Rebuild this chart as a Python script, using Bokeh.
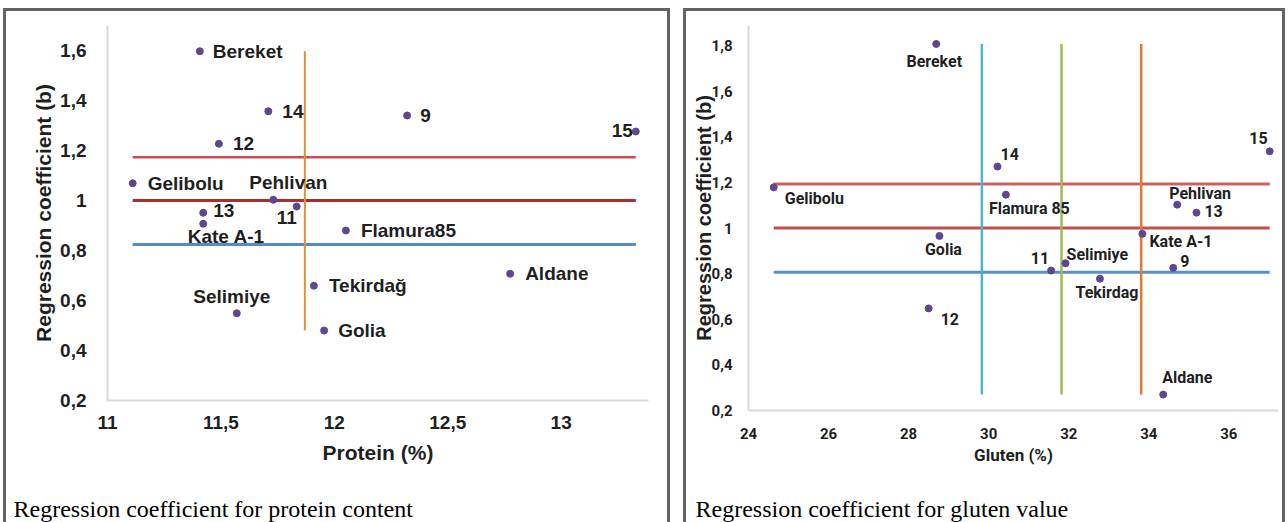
from bokeh.plotting import figure
from bokeh.models import ColumnDataSource, FixedTicker, CustomJSTickFormatter, Title
from bokeh.embed import file_html
from bokeh.resources import INLINE

# ---------------- data: protein panel ----------------
protein_names = ["Bereket", "14", "9", "15", "12", "Gelibolu", "Pehlivan", "11",
                 "13", "Kate A-1", "Flamura85", "Aldane", "Tekirdağ", "Selimiye", "Golia"]
protein_x = [11.407, 11.709, 12.321, 13.329, 11.491, 11.111, 11.731, 11.834,
             11.422, 11.422, 12.051, 12.775, 11.910, 11.570, 11.955]
protein_b = [1.597, 1.357, 1.340, 1.276, 1.227, 1.069, 1.003, 0.976,
             0.951, 0.907, 0.880, 0.707, 0.659, 0.549, 0.480]
protein_hlines = [1.173, 1.0, 0.824]
protein_mean = [11.87]
protein_xticks = [11, 11.5, 12, 12.5, 13]
protein_yticks = [0.2, 0.4, 0.6, 0.8, 1.0, 1.2, 1.4, 1.6]

# ---------------- data: gluten panel ----------------
gluten_names = ["Bereket", "14", "15", "Gelibolu", "Flamura 85", "Pehlivan", "13",
                "Kate A-1", "Golia", "11", "Selimiye", "9", "Tekirdag", "12", "Aldane"]
gluten_x = [28.69, 30.22, 37.02, 24.63, 30.43, 34.71, 35.19,
            33.84, 28.77, 31.56, 31.92, 34.61, 32.78, 28.50, 34.36]
gluten_b = [1.808, 1.270, 1.337, 1.179, 1.147, 1.103, 1.068,
            0.975, 0.966, 0.814, 0.846, 0.826, 0.778, 0.648, 0.270]
gluten_hlines = [1.194, 1.001, 0.806]
gluten_vlines = [29.83, 31.82, 33.81]
gluten_xticks = [24, 26, 28, 30, 32, 34, 36]
gluten_yticks = [0.2, 0.4, 0.6, 0.8, 1.0, 1.2, 1.4, 1.6, 1.8]

captions = ["Regression coefficient for protein content",
            "Regression coefficient for gluten value"]

# ---------------- label placement (styles) ----------------
protein_lab_align = ["left", "left", "left", "right", "left", "left", "center", "center",
                     "left", "center", "left", "left", "left", "center", "left"]
protein_lab_dx = [13, 14, 13, -3, 14, 15, 15, -10, 10, 23, 15, 15, 15, -5, 14]
protein_lab_dy = [0, 0, 0, -1, 0, 0, -17, 11, -2, 13, 0, 0, 0, -17, 0]

gluten_lab_align = ["center", "left", "right", "left", "left", "left", "left",
                    "left", "center", "right", "left", "left", "center", "left", "left"]
gluten_lab_dx = [-2, 3, -2, 11, -17, -8, 8, 7, 4, -2, 1, 7, 7, 12, -1]
gluten_lab_dy = [18, -13, -13, 11, 14, -11, -2, 8, 14, -13, -9, -7, 14, 11, -17]

DOT = "#5f4790"
TXT = "#1f1f1f"
AX = "#d9d9d9"
FONT = "Liberation Sans"
NARROW = "Roboto"
SHADOW = "inset 3px 0 0 0 #636363, inset -3px 0 0 0 #636363, inset 0 3px 0 0 #636363"

fmt = CustomJSTickFormatter(code="""
var s = (Math.round(tick*10)/10).toString();
return s.replace('.', ',');
""")


def style_axes(p, xticks, yticks, font, tsize, title_font, xtitle_size, ytitle_size):
    p.xaxis.ticker = FixedTicker(ticks=xticks)
    p.yaxis.ticker = FixedTicker(ticks=yticks)
    for ax in (p.xaxis[0], p.yaxis[0]):
        ax.formatter = fmt
        ax.axis_line_color = AX
        ax.axis_line_width = 2
        ax.major_tick_line_color = None
        ax.minor_tick_line_color = None
        ax.major_label_text_font = font
        ax.major_label_text_font_style = "bold"
        ax.major_label_text_font_size = tsize
        ax.major_label_text_color = TXT
        ax.axis_label_text_font_style = "bold"
        ax.axis_label_text_color = TXT
    p.xaxis.axis_label_text_font = title_font
    p.xaxis.axis_label_text_font_size = xtitle_size
    p.yaxis.axis_label_text_font = FONT
    p.yaxis.axis_label_text_font_size = ytitle_size
    p.xgrid.grid_line_color = None
    p.ygrid.grid_line_color = None
    p.outline_line_color = None
    p.border_fill_alpha = 0
    p.background_fill_alpha = 0


def add_caption(p, text, offset, gap_size):
    # empty spacer row pushes the caption towards the bottom of the panel
    p.add_layout(Title(text="\u00a0", standoff=0, text_font_size=gap_size,
                       text_font="Liberation Serif"), "below")
    p.add_layout(Title(text=text, align="left", offset=offset, standoff=0,
                       text_font="Liberation Serif", text_font_size="24px",
                       text_font_style="normal", text_color="#000000"), "below")


# ================= left panel =================
W1, H1 = 667, 514
p1 = figure(width=W1, height=H1, x_range=(11, 13.385), y_range=(0.2, 1.70),
            output_backend="svg", toolbar_location=None,
            min_border_left=104, min_border_right=22, min_border_top=17, min_border_bottom=122,
            x_axis_label="Protein (%)", y_axis_label="Regression coefficient (b)",
            styles={"position": "absolute", "left": "3px", "top": "8px", "box-shadow": SHADOW})
style_axes(p1, protein_xticks, protein_yticks, FONT, "19px", FONT, "21px", "21px")
p1.xaxis.major_label_standoff = 9
p1.yaxis.major_label_standoff = 15
p1.xaxis.axis_label_standoff = 9
p1.yaxis.axis_label_standoff = 2

xmin1, xmax1 = min(protein_x), max(protein_x)
ymin1, ymax1 = min(protein_b), max(protein_b)
hcols1 = ["#c9504d", "#a5302c", "#5689c8"]
hw1 = [2.5, 3, 3]
for yv, c, lw in zip(protein_hlines, hcols1, hw1):
    p1.line([xmin1, xmax1], [yv, yv], line_color=c, line_width=lw)
p1.line([protein_mean[0], protein_mean[0]], [ymin1, ymax1], line_color="#e5912f", line_width=2)

src1 = ColumnDataSource(dict(x=protein_x, y=protein_b, t=protein_names,
                             al=protein_lab_align, dx=protein_lab_dx, dy=protein_lab_dy))
p1.scatter("x", "y", source=src1, size=7, fill_color=DOT, line_color=DOT)
p1.text("x", "y", text="t", source=src1, text_align="al", text_baseline="middle",
        x_offset="dx", y_offset="dy", text_font={"value": FONT}, text_font_style="bold",
        text_font_size="19px", text_color=TXT)
add_caption(p1, captions[0], -94, "22px")

# ================= right panel =================
W2, H2 = 602, 514
p2 = figure(width=W2, height=H2, x_range=(24, 37.24), y_range=(0.2, 1.889),
            output_backend="svg", toolbar_location=None,
            min_border_left=65, min_border_right=7, min_border_top=17, min_border_bottom=112,
            x_axis_label="Gluten (%)", y_axis_label="Regression coefficient (b)",
            styles={"position": "absolute", "left": "683px", "top": "8px", "box-shadow": SHADOW})
style_axes(p2, gluten_xticks, gluten_yticks, NARROW, "15px", NARROW, "17px", "20px")
p2.xaxis.major_label_standoff = 11
p2.yaxis.major_label_standoff = 10
p2.xaxis.axis_label_standoff = 3
p2.yaxis.axis_label_standoff = -6

xmin2, xmax2 = min(gluten_x), max(gluten_x)
ymin2, ymax2 = min(gluten_b), max(gluten_b)
hcols2 = ["#d0605c", "#c24f4c", "#5a8fd0"]
for yv, c in zip(gluten_hlines, hcols2):
    p2.line([xmin2, xmax2], [yv, yv], line_color=c, line_width=3)
vcols2 = ["#4fb3c9", "#9bbb59", "#e27a2e"]
for xv, c in zip(gluten_vlines, vcols2):
    p2.line([xv, xv], [ymin2, ymax2], line_color=c, line_width=2.5)

src2 = ColumnDataSource(dict(x=gluten_x, y=gluten_b, t=gluten_names,
                             al=gluten_lab_align, dx=gluten_lab_dx, dy=gluten_lab_dy))
p2.scatter("x", "y", source=src2, size=7, fill_color=DOT, line_color=DOT)
p2.text("x", "y", text="t", source=src2, text_align="al", text_baseline="middle",
        x_offset="dx", y_offset="dy", text_font={"value": NARROW}, text_font_style="bold",
        text_font_size="16px", text_color=TXT)
add_caption(p2, captions[1], -53, "21px")

open("out.html", "w").write(file_html([p1, p2], INLINE))
